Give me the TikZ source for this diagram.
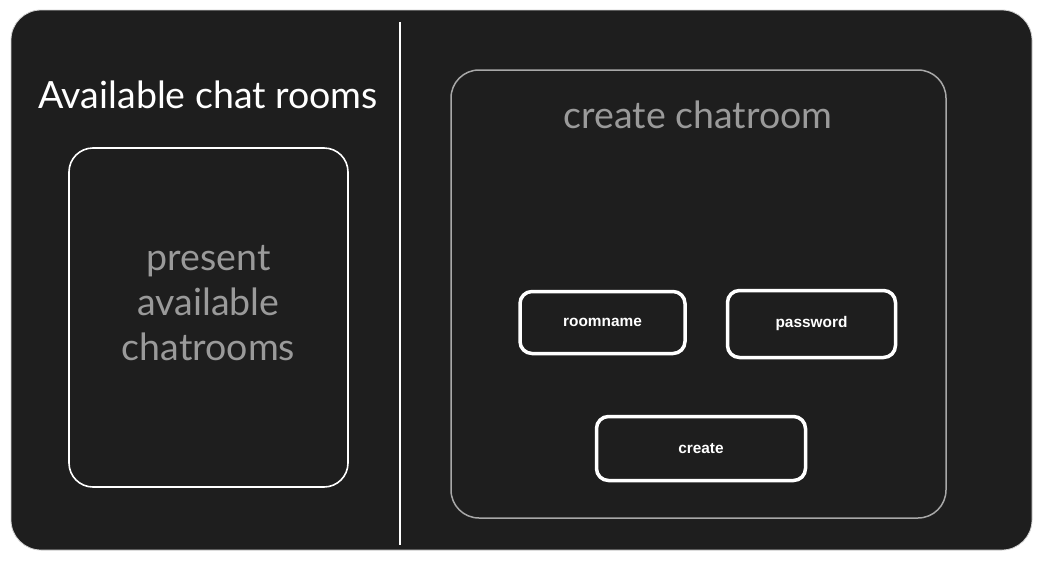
\documentclass[tikz,border=0pt]{standalone}
\usepackage{fontspec}
\setmainfont{Lato}
\newfontfamily\btnfont{Liberation Sans}
\usepackage{xcolor}
\usetikzlibrary{positioning,calc}

\definecolor{canvas}{HTML}{1E1E1E}
\definecolor{dimtext}{HTML}{9A9A9A}
\definecolor{frameline}{HTML}{A8A8A8}

\begin{document}
\begin{tikzpicture}[
  x=1pt, y=-1pt,
  panel/.style={draw=white, line width=1.6pt, rounded corners=24pt, fill=canvas,
    minimum width=279pt, minimum height=339pt},
  button/.style={draw=white, line width=3.5pt, rounded corners=12pt, fill=canvas,
    text=white, font=\btnfont\bfseries\fontsize{15.4}{17}\selectfont},
  heading/.style={font=\fontsize{37.5}{45}\selectfont},
]
\useasboundingbox (0,0) rectangle (1042,560);
\fill[white] (0,0) rectangle (1042,560);
% dark canvas
\draw[fill=canvas, draw=gray!35, line width=0.8pt, rounded corners=30pt] (11,10) rectangle (1032,550);

% divider
\coordinate (divtop) at (399.5,22);
\coordinate (divbot) at (399.5,545);
\draw[white, line width=2pt] (divtop) -- (divbot);

% left side
\node[heading, text=white] (title) at (208,95) {Available chat rooms};
\node[panel] (rooms) at (208.5,317.5) {};
\node[heading, text=dimtext, align=center] (roomstext) at (208.5,303) {present\\available\\chatrooms};

% right side
\node[draw=frameline, line width=1.5pt, rounded corners=28pt,
  minimum width=495pt, minimum height=448pt] (form) at (698.5,294) {};
\node[heading, text=dimtext] (formtitle) at (698,115) {create chatroom};
\node[button, minimum width=165pt, minimum height=62pt] (roomname) at (602.5,322.5) {roomname};
\node[button, minimum width=168pt, minimum height=67pt] (password) at (811.5,324) {password};
\node[button, minimum width=209pt, minimum height=64pt] (create) at (701,448.5) {create};
\end{tikzpicture}
\end{document}
